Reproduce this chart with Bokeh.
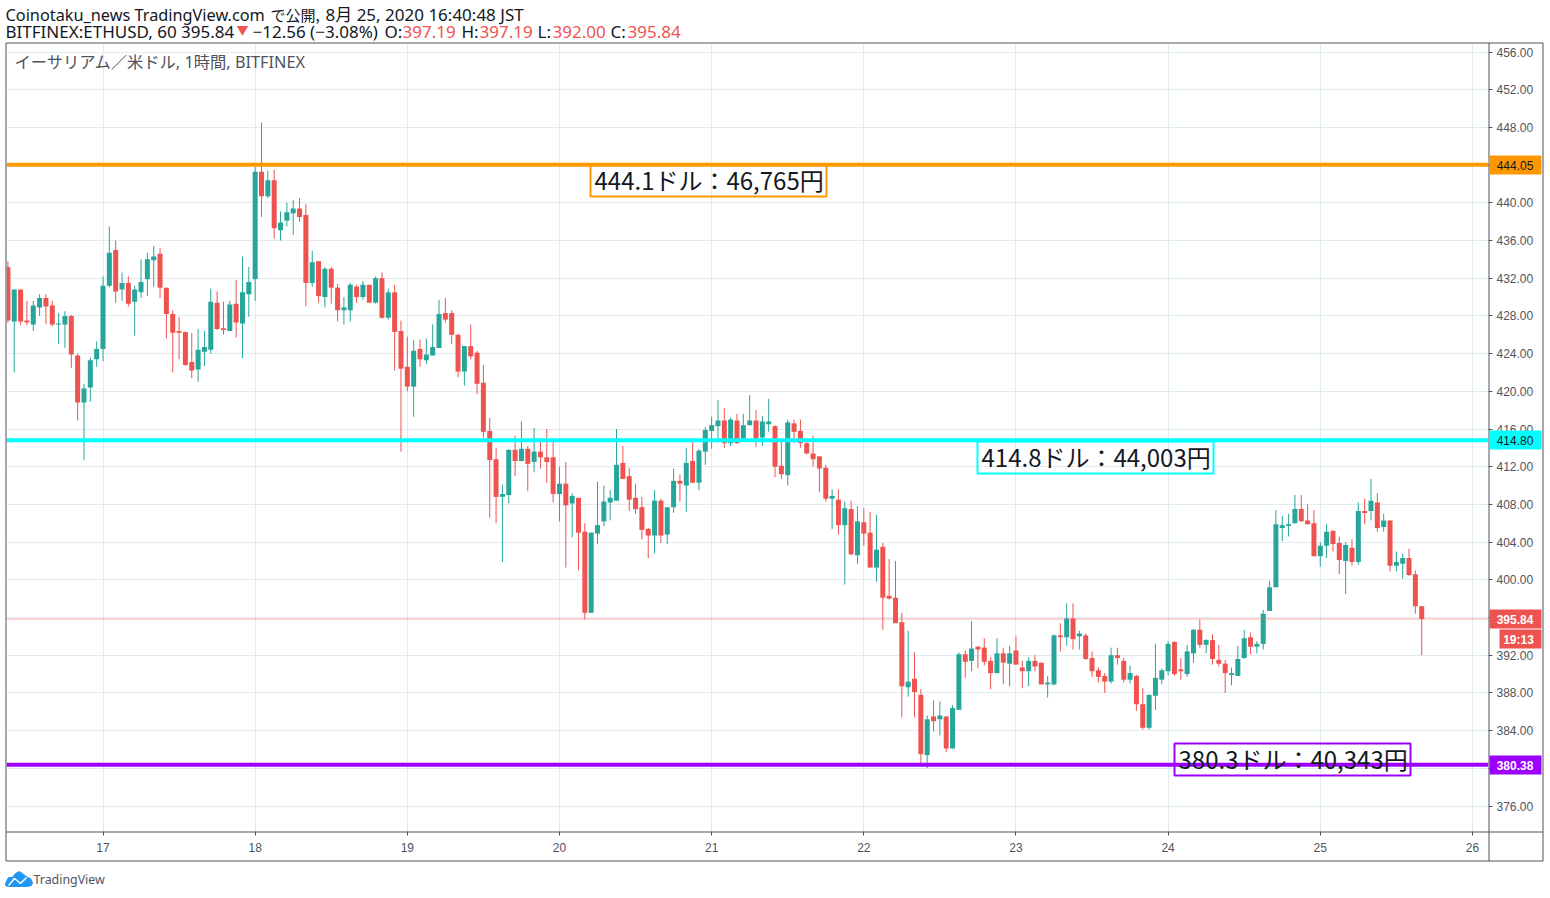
from bokeh.plotting import figure
from bokeh.layouts import column
from bokeh.core.properties import value
from bokeh.models import ColumnDataSource, Span, FixedTicker, NumeralTickFormatter, Range1d
from bokeh.embed import file_html
from bokeh.resources import INLINE

W, H = 1550, 898

open_ = [433.2,427.4,430.8,427.5,427.1,428.9,429.9,429.1,427.1,427.1,
 428,423.8,418.8,420.4,423.4,424.5,431.2,435,430.8,431.5,
 429.5,430.5,431.9,433.9,434.6,431,428.2,426.4,426.3,423.1,
 422.3,424.2,424.4,429.4,426.7,426.4,429.3,427.2,430.3,431.9,
 443.3,440.7,442.4,437.1,438.1,438.9,439.4,438.7,431.5,433.8,
 430,433,431,428.6,428.6,431.1,430,431.3,429.4,432,
 427.8,430.5,426.4,422.6,420.5,424.5,423.3,423.8,424.6,428.3,
 428.3,426,422.1,424.8,424.1,420.9,415.8,412.8,408.8,409,
 413.8,412.6,413.9,412.5,413.6,413,413,409.1,410.2,408.1,
 408.7,405.1,396.5,404.9,406.2,408.2,408.4,412.4,411,408.7,
 407.7,405.4,404.7,408.4,404.8,407.7,410.5,410,412.6,410.3,
 413.6,415.8,416.3,416.9,414.5,416.9,414.9,416.4,416.9,415.1,
 416.5,416.3,412.1,411.1,416.6,415.8,414.5,413.4,413.1,411.9,
 408.6,408.5,405.8,407.5,402.6,406.1,405,401.3,403.5,398.3,
 398.1,395.5,388.6,389.5,387.8,381.4,385.5,385.2,385.5,382.1,
 386.2,392.1,391.4,392.9,392.8,391.4,390.1,392.2,391.1,392.5,
 390.7,390.3,391.4,391.2,388.9,388.9,394.1,393.9,395.9,394,
 394.1,391.7,390.4,389.8,389.2,392,391.4,389.4,389.8,386.8,
 384.3,387.7,389.4,390.3,393.4,390.5,390,392.2,394.7,393.1,
 393.6,391.5,391.1,389.9,389.8,391.7,393.9,392.9,393.2,396.7,
 399.2,405.5,405.7,406,407.5,406.3,406,402.5,403.6,405.2,
 403.9,402,403.4,401.9,407.3,407.3,408.2,405.6,406.3,401.5,
 401.7,402.3,400.6,397.19]
high = [433.8,430.8,430.8,429.6,429.6,430.3,430.3,429.6,428.3,428.5,
 428.1,424,420.8,423.6,425.3,432.2,437.5,436,432.6,432.2,
 431.2,434,434.7,435.4,435.2,431,428.6,427.9,426.3,426.2,
 426.6,426.4,430.9,430.6,429.5,429.6,431.8,434.3,433.2,443.8,
 448.5,443.4,443.5,439.1,440,440.3,440.5,439.9,434.9,433.8,
 433.2,433.2,431.4,430,431.5,431.3,431.7,431.3,432.2,432.6,
 430.9,431.3,427.5,425.8,425.4,425.5,425.6,427.1,429.7,429.9,
 428.6,426.1,424.8,427.1,424.3,422.8,417.2,414,410.1,413.8,
 415.3,416.8,414.2,416.1,414.9,416,414.9,412,412.5,409.2,
 408.7,406,405,410.4,410,409.5,416,414.2,411.9,410.2,
 408.8,405.5,409.5,408.6,407.7,411.8,411.2,414,414.9,413.9,
 416.2,417.3,419.1,418.2,417.2,417.6,417.6,419.6,418,417.4,
 419.2,416.4,414.7,417,417,417,414.7,415.3,413.1,412.2,
 409.6,409.6,408.3,408.4,407.8,407.6,407.2,406.9,403.9,402.2,
 402,396.5,394.6,392.3,388.4,385.6,387.2,387.1,385.5,386.7,
 392.3,392.5,395.6,393,393.8,391.8,393.8,392.8,393,394,
 391.4,391.8,392,391.2,389.8,394.2,395.4,397.5,397.5,394.6,
 394.3,392.4,390.7,390.1,392.8,392.8,391.7,390.9,389.9,388.5,
 387.8,393.2,390.6,393.5,393.5,391.7,393.1,394.8,395.8,393.7,
 394.2,393.1,391.5,390.7,393,394.7,394.4,393.5,396.8,399.9,
 407.4,406.8,407,409,409,408,407.4,404,405.9,405.2,
 404.6,404,404.3,408.2,408.6,410.7,409.2,407,406.3,403,
 402.8,403.3,401,397.19]
low = [427.3,422,427,427,426.4,428,427.1,426.9,425,424.6,
 422.5,416.9,412.7,418.9,422.6,423.2,431,429.4,429.6,429,
 425.9,429.9,430.1,431.1,429.9,425.6,422,423.4,422.7,421.4,
 421,422.7,424,426.5,426,426.4,425.7,423.5,427.9,429.6,
 438.5,440.5,436.2,436,437.5,436.6,438,429,431.1,429.4,
 428.9,429.3,427.4,427.1,427.4,429.4,429.7,429.4,429.3,427.7,
 427.6,422.2,413.6,420,417.3,422.6,422.9,423.8,424.6,427.3,
 425,421.5,420.6,423.4,419.7,415.1,406.6,406,401.9,408.1,
 411,412.6,409.4,411.4,411.8,410.3,408.2,406.2,401.3,404.5,
 401,395.8,396.5,403.8,405.7,406.3,408.4,410.7,407.3,407,
 404.3,402.3,402.8,403.9,403.8,407.1,408.3,407.2,410.3,409.5,
 412.2,413.9,414.8,414,414.2,414.4,414.8,416.4,414.1,414.2,
 415.7,410.9,410.7,410,414.5,414,413.3,412,409.3,408.3,
 405.4,404.8,399.5,402.6,401.7,403.6,401.3,399.8,394.7,397.9,
 395.4,385.4,387.6,385.4,380.5,380,383.9,383.5,381.7,382.1,
 386.2,389.6,390.3,390.6,390.9,388.4,390.1,388.9,388.7,391,
 388.5,388.7,390.3,388.9,387.5,388.8,392.4,393,392.6,392.6,
 391.5,389.7,389.1,388,389,391,389.1,389,386.1,384.1,
 384.1,386.2,388.9,389.9,389.8,389.4,389.7,391.2,392.8,392.2,
 391,390.8,388,388.8,389.8,391.6,392.1,392.2,392.6,396.7,
 399.2,404.1,404.6,406,406.1,405.9,402.5,401.4,402.3,403,
 400.6,398.5,401.5,401.6,405.9,406.3,405.1,405.1,400.9,400.9,
 400.1,400.4,396.4,392]
close = [427.5,430.8,427.4,427.3,429.1,429.9,429,427.1,427.2,428,
 423.9,418.8,420.3,423.3,424.5,431.2,434.7,430.6,431.5,429.3,
 430.8,431.6,434,434.3,431,428.2,426.2,426.2,422.8,422.2,
 424.4,424.7,429.5,426.6,426.5,429.2,427.3,430.5,431.6,443.3,
 440.7,442.4,437.3,437.9,439,439.4,438.5,431.5,433.7,430.1,
 433,431,428.6,428.9,431.3,430,431.3,429.4,432,427.8,
 430.5,426.3,422.4,420.5,424.3,423.4,423.9,424.7,428.2,427.6,
 426,422.1,424.8,423.7,420.8,415.7,412.7,408.8,409.1,413.8,
 412.6,413.9,412.3,413.6,413,412.5,409.1,410.2,407.9,408.9,
 405,396.5,405,405.8,408.3,408.7,412.2,410.7,408.5,407.5,
 405.3,404.7,408.4,404.7,407.7,410.5,410.2,412.4,410.3,413.7,
 415.9,416.4,416.9,414.5,417,414.5,416.4,416.9,415,416.8,
 416.8,412,411.2,416.7,415.7,414.5,413.4,412.8,411.8,408.6,
 408.9,405.8,407.6,402.7,406.2,404.9,401.3,403.2,398.1,398,
 395.4,388.7,389.2,388.1,381.5,385.2,385,385.6,382.1,386.4,
 392.1,391.3,392.7,392.6,391.3,390.1,392.2,391.2,392.2,391,
 390.3,391.4,390.8,388.9,389.1,394.1,393.9,395.9,393.7,394.3,
 391.6,390.3,389.7,389.2,392,391.7,389.4,390.1,386.8,384.3,
 387.8,389.6,390.4,393.2,390,390.3,392.4,394.7,393.1,393.6,
 391.6,391.1,390.1,390.1,391.6,393.8,392.9,393.2,396.4,399.2,
 405.9,405.8,405.9,407.5,406.2,405.9,402.5,403.6,405.1,403.8,
 402.1,403.7,401.9,407.3,407.1,408.4,405.5,406.3,401.5,401.9,
 402.3,400.5,397.2,395.84]

hour = list(range(len(close)))
day_labels = ["17", "18", "19", "20", "21", "22", "23", "24", "25", "26"]
first_midnight = 15          # index of the first candle at 00:00 on the 17th
price_ticks = list(range(376, 457, 4))

level_prices = [444.05, 414.80, 380.38]
level_colors = ["#ff9800", "#00ffff", "#9c00ff"]
last_price = 395.84
UP, DOWN = "#26a69a", "#ef5350"
GRID = "#e1ecf2"
AXIS = "#50535e"
INK = "#131722"
JP = "Noto Sans CJK JP"
MIX = "Noto Sans, Noto Sans CJK JP"
NUM = "Liberation Sans"

F_L, F_R, F_T, F_B = 7, 1489, 44, 832   # pane edges in page pixels
PX_X, PX_Y = 6.34, 9.425                # pixels per hour and per dollar
Y456 = 52.5                             # page row of the 456 tick
X0 = 0.0 - (8.4 - F_L) / PX_X
X1 = X0 + (F_R - F_L) / PX_X
Y_TOP = 456 + (Y456 - F_T) / PX_Y

p = figure(width=W, height=H, sizing_mode="fixed", output_backend="svg", toolbar_location=None,
           x_range=Range1d(X0, X1),
           y_range=Range1d(Y_TOP - (F_B - F_T) / PX_Y, Y_TOP),
           y_axis_location="right", margin=0, frame_align=False,
           min_border_left=F_L, min_border_right=W - F_R,
           min_border_top=F_T, min_border_bottom=H - F_B)
p.background_fill_color = "white"
p.border_fill_color = "white"
p.outline_line_color = None

day_ticks = [first_midnight + 24 * i for i in range(len(day_labels))]
for ax, ticks in ((p.xaxis[0], day_ticks), (p.yaxis[0], price_ticks)):
    ax.ticker = FixedTicker(ticks=ticks)
    ax.axis_line_color = None
    ax.major_tick_line_color = AXIS
    ax.major_tick_out = 4
    ax.major_tick_in = 0
    ax.minor_tick_line_color = None
    ax.major_label_text_color = AXIS
    ax.major_label_text_font = NUM
    ax.major_label_text_font_size = "12px"
p.xaxis[0].major_label_overrides = dict(zip(day_ticks, day_labels))
p.xaxis[0].major_label_standoff = 7
p.yaxis[0].formatter = NumeralTickFormatter(format="0.00")
p.yaxis[0].major_label_standoff = 4
p.xgrid[0].ticker = FixedTicker(ticks=day_ticks)
p.ygrid[0].ticker = FixedTicker(ticks=price_ticks)
p.xgrid[0].grid_line_color = GRID
p.ygrid[0].grid_line_color = GRID

src = ColumnDataSource(dict(
    x=hour, o=open_, h=high, l=low, c=close,
    top=[max(a, b) for a, b in zip(open_, close)],
    bot=[min(a, b) for a, b in zip(open_, close)],
    col=[UP if b >= a else DOWN for a, b in zip(open_, close)]))
p.segment("x", "h", "x", "l", source=src, line_color="col", line_width=1)
p.vbar("x", width=0.79, top="top", bottom="bot", source=src, fill_color="col", line_color=None)

p.line([X0, X1], [last_price, last_price], line_color=DOWN, line_width=1, line_dash="1 1")
for price, color in zip(level_prices, level_colors):
    p.add_layout(Span(location=price, dimension="width", line_color=color, line_width=4))

# A transparent sheet over the chart carries everything that sits outside the pane.
# Its ranges are the page's pixels.
o = figure(width=W, height=H, sizing_mode="fixed", output_backend="svg", toolbar_location=None,
           x_range=Range1d(0, W), y_range=Range1d(H, 0),
           x_axis_location=None, y_axis_location=None, margin=(-H, 0, 0, 0), frame_align=False,
           min_border=0, min_border_left=0, min_border_right=0, min_border_top=0, min_border_bottom=0,
           background_fill_color=None, border_fill_color=None, outline_line_color=None)
o.grid.visible = False


def text(s, x, y, size=15, color=INK, font=MIX, style="normal", align="left"):
    o.text([x], [y], text=[s], text_font=value(font), text_font_size=f"{size}px", text_color=color,
           text_font_style=style, text_baseline="middle", text_align=align)


def rect(l, t, r, b, fill=None, line=None, lw=1):
    o.quad(left=[l], right=[r], top=[t], bottom=[b], fill_color=fill, fill_alpha=1 if fill else 0,
           line_color=line, line_width=lw, line_alpha=1 if line else 0)


# frame of the widget and the two axis rules
rect(6.5, 43.5, 1543.5, 861.5, None, AXIS, 1)
o.segment([1489.5, 6.5], [43.5, 832.5], [1489.5, 1543.5], [861.5, 832.5], line_color=AXIS, line_width=1)

# price tags on the axis
for price, color, tc, weight in [(444.05, "#ff9800", INK, "normal"), (414.80, "#00ffff", INK, "normal"),
                                 (395.84, DOWN, "white", "bold"), (380.38, "#9c00ff", "white", "bold")]:
    py = round(Y456 + (456 - price) * PX_Y - 0.5) + 0.5
    rect(1490, py - 9.5, 1542, py + 9.5, color)
    text(f"{price:.2f}", 1515.5, py + 0.5, 12, tc, NUM, weight, "center")
rect(1500, 630, 1542, 649, DOWN)
text("19:13", 1519, 640, 12, "white", NUM, "bold", "center")

# annotation boxes
rect(591, 165, 827, 197, None, "#ff9800", 2)
text("444.1ドル：46,765円", 595, 180, 24, font=JP)
rect(978, 442, 1214, 474, None, "#00ffff", 2)
text("414.8ドル：44,003円", 982, 457, 24, font=JP)
rect(1175, 744, 1411, 776, None, "#9c00ff", 2)
text("380.3ドル：40,343円", 1179, 759, 24, font=JP)

# headers
text("Coinotaku_news TradingView.com", 6, 15, 16.3)
text("で公開,", 271, 15, 15, font=JP)
text("8月 25, 2020 16:40:48 JST", 326, 15, 17)
text("BITFINEX:ETHUSD, 60 395.84", 6, 32, 17)
text("▼", 237, 30, 12, DOWN, JP)
text("−12.56 (−3.08%)", 253, 32, 17)
for s, xa, v, xb in [("O:", 385, "397.19", 403), ("H:", 462, "397.19", 480),
                     ("L:", 538, "392.00", 553), ("C:", 611, "395.84", 628)]:
    text(s, xa, 32, 17)
    text(v, xb, 32, 17, DOWN)
text("イーサリアム／米ドル, 1時間, BITFINEX", 15, 62, 16.3, AXIS)

# TradingView mark
o.patch([6, 9, 13, 16, 20, 24, 28, 31, 33, 32, 28, 9, 6],
        [884, 878, 878, 874, 872, 875, 878, 879, 883, 886, 887, 887, 886],
        fill_color="#2196f3", line_color="#2196f3")
o.line([9, 15, 21, 27], [886, 879, 884, 878], line_color="white", line_width=1.5)
text("TradingView", 34, 880, 12.4, AXIS, "Noto Sans")

page = column(p, o, spacing=0, width=W, height=H, sizing_mode="fixed", margin=0,
              styles={"position": "absolute", "left": "-1px", "top": "-1px",
                      "width": f"{W}px", "height": f"{H}px"})
open("out.html", "w").write(file_html(page, INLINE))
